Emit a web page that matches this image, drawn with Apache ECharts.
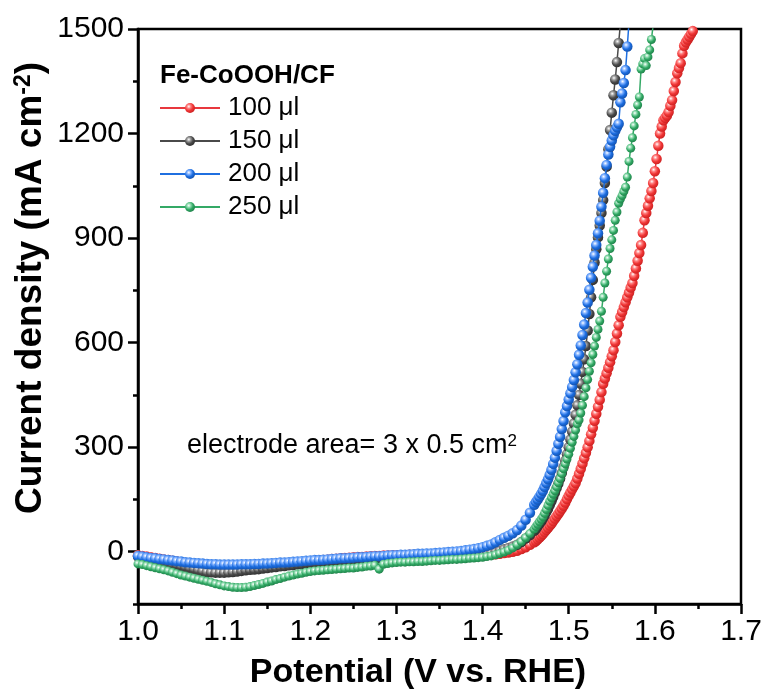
<!DOCTYPE html>
<html>
<head>
<meta charset="utf-8">
<script src="https://cdn.jsdelivr.net/npm/echarts@6/dist/echarts.min.js"></script>
<style>html,body{margin:0;padding:0;background:#fff;}#c{width:770px;height:695px;}</style>
</head>
<body>
<div id="c"></div>
<script>
// ---- data (potential in V vs RHE, current density in mA cm^-2) ----
const potentials = [
  1.000,1.005,1.010,1.015,1.020,1.025,1.030,1.035,1.040,1.045,
  1.050,1.055,1.060,1.065,1.070,1.075,1.080,1.085,1.090,1.095,
  1.100,1.105,1.110,1.115,1.120,1.125,1.130,1.135,1.140,1.145,
  1.150,1.155,1.160,1.165,1.170,1.175,1.180,1.185,1.190,1.195,
  1.200,1.205,1.210,1.215,1.220,1.225,1.230,1.235,1.240,1.245,
  1.250,1.255,1.260,1.265,1.270,1.275,1.280,1.285,1.290,1.295,
  1.300,1.305,1.310,1.315,1.320,1.325,1.330,1.335,1.340,1.345,
  1.350,1.355,1.360,1.365,1.370,1.375,1.380,1.385,1.390,1.395,
  1.400,
  1.405,1.41,1.415,1.42,1.425,1.43,1.435,1.44,1.445,1.45,1.455,1.46,
  1.462,1.464,1.466,1.468,1.470,1.472,1.474,1.476,1.478,1.480,
  1.482,1.484,1.486,1.488,1.490,1.492,1.494,1.496,1.498,1.500,
  1.502,1.504,1.506,1.508,1.510,1.512,1.514,1.516,1.518,1.520,
  1.522,1.524,1.526,1.528,1.530,1.532,1.534,1.536,1.538,1.540,
  1.542,1.544,1.546,1.548,1.550,1.552,1.554,1.556,1.558,1.560,
  1.562,1.564,1.566,1.568,1.570,1.572,1.574,1.576,1.578,1.580,
  1.582,1.584,1.586,1.588,1.590,1.592,1.594,1.596,1.598,1.600,
  1.602,1.604,1.606,1.608,1.610,1.612,1.614,1.616,1.618,1.620,
  1.622,1.624,1.626,1.628,1.630,1.632,1.634,1.636,1.638,1.640,
  1.642,1.644,1.646,1.648,1.650
];

const current100 = [
  -10,-12,-14,-16,-18,-20,-22,-24,-26,-28,
  -31,-34,-37,-40,-44,-47,-50,-52,-53,-54,
  -55,-55,-54,-53,-52,-50,-49,-47,-46,-44,
  -42,-40,-39,-37,-36,-34,-33,-31,-30,-29,
  -28,-26,-25,-24,-23,-21,-20,-19,-18,-17,
  -16,-15,-15,-14,-13,-12,-12,-11,-11,-10,
  -10,-10,-10,-9,-9,-9,-9,-9,-9,-9,
  -9,-9,-9,-9,-10,-10,-10,-10,-10,-10,
  -10,
  -9,-8,-7,-6,-4,-2,0,3,8,13,20,27,
  31,36,41,46,51,57,63,69,75,81,
  88,95,102,109,116,124,132,141,151,161,
  170,179,188,197,210,224,238,253,268,284,
  300,318,337,356,376,396,416,436,458,482,
  497,512,528,544,561,578,602,626,650,674,
  688,702,716,730,744,758,771,792,813,835,
  857,880,915,951,972,993,1014,1035,1058,1092,
  1127,1165,1200,1220,1238,1245,1252,1262,1280,1296,
  1322,1348,1373,1388,1402,1430,1452,1462,1470,1478,
  1486,1494,1505,1520
];

const current150 = [
  -14,-16,-19,-21,-24,-27,-30,-32,-35,-37,
  -40,-43,-46,-49,-52,-55,-58,-59,-60,-60,
  -60,-59,-58,-57,-55,-53,-52,-51,-50,-48,
  -47,-45,-44,-42,-41,-39,-38,-36,-35,-33,
  -32,-31,-30,-29,-28,-27,-26,-25,-24,-23,
  -22,-21,-21,-20,-19,-18,-18,-17,-16,-15,
  -15,-15,-15,-14,-14,-14,-14,-13,-13,-12,
  -12,-12,-12,-11,-11,-10,-10,-9,-9,-8,
  -8,
  -6,-4,-1,3,7,11,15,20,28,38,48,60,
  66,73,80,87,95,104,114,123,134,145,
  157,170,183,196,210,226,243,261,280,300,
  322,345,368,393,420,450,482,516,552,590,
  635,682,730,780,830,868,902,936,972,1009,
  1058,1105,1155,1210,1260,1310,1355,1405,1460,1515
];

const current200 = [
  -12,-14,-16,-18,-19,-21,-22,-24,-25,-27,
  -28,-30,-31,-32,-33,-34,-35,-36,-36,-37,
  -37,-37,-37,-37,-36,-36,-36,-35,-35,-34,
  -34,-33,-32,-31,-31,-30,-29,-28,-27,-26,
  -25,-24,-24,-23,-22,-21,-20,-19,-19,-18,
  -17,-16,-16,-15,-14,-13,-13,-12,-11,-10,
  -10,-9,-9,-8,-7,-6,-6,-5,-5,-4,
  -3,-2,-1,0,1,2,4,6,8,10,
  13,
  17,21,27,34,40,46,53,62,75,92,112,135,
  143,150,158,166,175,186,197,208,221,235,
  252,270,290,310,330,352,375,400,418,437,
  455,473,493,515,538,565,592,622,652,685,
  715,752,786,818,850,880,914,950,990,1030,
  1072,1110,1140,1162,1180,1195,1208,1218,1228,1290,
  1315,1345,1382,1450,1520
];

const current250 = [
  -35,-37,-40,-43,-46,-49,-52,-55,-59,-63,
  -67,-70,-73,-76,-79,-82,-85,-88,-92,-95,
  -98,-100,-102,-103,-103,-102,-100,-97,-94,-91,
  -87,-84,-80,-77,-73,-70,-67,-64,-62,-59,
  -57,-55,-54,-53,-52,-51,-50,-49,-48,-47,
  -47,-45,-44,-42,-41,-39,-50,-36,-34,-32,
  -31,-30,-30,-29,-29,-28,-28,-27,-26,-25,
  -25,-24,-23,-22,-22,-21,-20,-19,-18,-17,
  -16,
  -14,-12,-9,-5,-1,4,11,20,29,40,52,65,
  72,79,86,93,100,110,121,133,145,155,
  165,175,186,198,210,224,238,252,266,280,
  297,314,331,349,367,378,398,420,445,470,
  494,518,542,566,590,615,638,662,690,730,
  771,805,840,870,895,922,951,975,1000,1012,
  1022,1034,1046,1075,1120,1158,1188,1222,1255,1282,
  1305,1385,1400,1415,1395,1420,1440,1470,1510
];

const seriesNames = ['100 \u03bcl', '150 \u03bcl', '200 \u03bcl', '250 \u03bcl'];
const xTicks = [1.0, 1.1, 1.2, 1.3, 1.4, 1.5, 1.6, 1.7];
const yMajorTicks = [0, 300, 600, 900, 1200, 1500];
const yMinorTicks = [-150, 150, 450, 750, 1050, 1350];

// ---- chart ----
const FONT = '"Liberation Sans", Arial, Helvetica, sans-serif';
function pairs(vals) { return vals.map((v, i) => [potentials[i], v]); }
function ball(light, base, dark) {
  return { type: 'radial', x: 0.38, y: 0.35, r: 0.7,
    colorStops: [
      { offset: 0, color: '#ffffff' },
      { offset: 0.28, color: light },
      { offset: 0.6, color: base },
      { offset: 1, color: dark }
    ] };
}
const styles = [
  { line: '#e8383d', ball: ball('#ff8080', '#ef3535', '#c81f1f'), size: 10.5 },
  { line: '#4a4a4a', ball: ball('#9a9a9a', '#4a4a4a', '#2c2c2c'), size: 10.5 },
  { line: '#1f6fe0', ball: ball('#7fb0ff', '#1c6de0', '#134fa8'), size: 10.5 },
  { line: '#34a966', ball: ball('#8edbae', '#30a763', '#1f7e48'), size: 9 }
];
const dataSets = [current100, current150, current200, current250];

const chart = echarts.init(document.getElementById('c'), null, { renderer: 'canvas' });
const axisLineStyle = { color: '#000', width: 2.5 };

chart.setOption({
  animation: false,
  backgroundColor: '#fff',
  grid: { left: 138, right: 29, top: 29, bottom: 91, show: true, borderColor: '#000', borderWidth: 2.5, containLabel: false },
  xAxis: {
    type: 'value', min: 1.0, max: 1.7, interval: 0.1,
    axisLine: { show: true, onZero: false, lineStyle: axisLineStyle },
    axisTick: { show: true, length: 10, lineStyle: axisLineStyle },
    minorTick: { show: true, splitNumber: 2, length: 5, lineStyle: axisLineStyle },
    splitLine: { show: false }, minorSplitLine: { show: false },
    axisLabel: { color: '#000', fontSize: 30, fontFamily: FONT, margin: 13,
      formatter: v => v.toFixed(1), customValues: xTicks }
  },
  yAxis: [
    {
      type: 'value', min: -150, max: 1500, position: 'left',
      axisLine: { show: true, onZero: false, lineStyle: axisLineStyle },
      axisTick: { show: true, length: 10, lineStyle: axisLineStyle, customValues: yMajorTicks },
      splitLine: { show: false },
      axisLabel: { color: '#000', fontSize: 30, fontFamily: FONT, margin: 14,
        formatter: v => String(v), customValues: yMajorTicks }
    },
    {
      type: 'value', min: -150, max: 1500, position: 'left', offset: 0,
      axisLine: { show: false },
      axisTick: { show: true, length: 5, lineStyle: axisLineStyle, customValues: yMinorTicks },
      splitLine: { show: false },
      axisLabel: { show: false }
    }
  ],
  legend: {
    orient: 'vertical', left: 159, top: 95, itemWidth: 60, itemHeight: 12.5, itemGap: 7, padding: 0,
    selectedMode: false, data: seriesNames,
    textStyle: { fontSize: 26, color: '#000', fontFamily: FONT, padding: [0, 0, 0, 3] }
  },
  graphic: [
    { type: 'text', x: 160, y: 76, silent: true,
      style: { text: 'Fe-CoOOH/CF', fontSize: 26, fontWeight: 'bold', fontFamily: FONT, fill: '#000',
        align: 'left', verticalAlign: 'middle', textAlign: 'left', textVerticalAlign: 'middle' } },
    { type: 'text', x: 187, y: 446, silent: true,
      style: { text: 'electrode area= 3 x 0.5 cm{s|2}', fontSize: 27, fontFamily: FONT, fill: '#000',
        align: 'left', verticalAlign: 'middle', textAlign: 'left', textVerticalAlign: 'middle',
        rich: { s: { fontSize: 17, fontFamily: FONT, fill: '#000', verticalAlign: 'top' } } } },
    { type: 'text', x: 418, y: 673, silent: true,
      style: { text: 'Potential (V vs. RHE)', fontSize: 34, fontWeight: 'bold', fontFamily: FONT, fill: '#000',
        align: 'center', verticalAlign: 'middle', textAlign: 'center', textVerticalAlign: 'middle' } },
    { type: 'text', x: 31, y: 288, rotation: Math.PI / 2, silent: true,
      style: { text: '{b|Current density (mA cm}{s|-2}{b|)}', fill: '#000',
        align: 'center', verticalAlign: 'middle', textAlign: 'center', textVerticalAlign: 'middle',
        rich: {
          b: { fontSize: 37, fontWeight: 'bold', fontFamily: FONT, fill: '#000' },
          s: { fontSize: 23, fontWeight: 'bold', fontFamily: FONT, fill: '#000', verticalAlign: 'top' }
        } } }
  ],
  series: dataSets.map((d, i) => ({
    type: 'line', name: seriesNames[i], data: pairs(d), yAxisIndex: 0,
    symbol: 'circle', symbolSize: styles[i].size, showSymbol: true, showAllSymbol: true,
    lineStyle: { color: styles[i].line, width: 1.5 },
    itemStyle: { color: styles[i].ball },
    emphasis: { disabled: true }, z: 2 + i
  }))
});
</script>
</body>
</html>
